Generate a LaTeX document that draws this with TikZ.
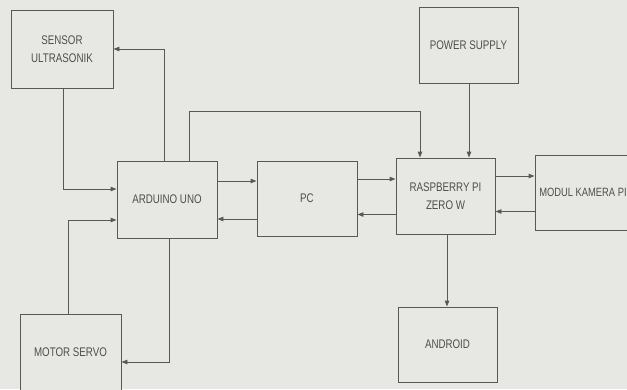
\documentclass[tikz,border=0pt]{standalone}
\usepackage{fontspec}
\newfontfamily\narrowsans[FakeStretch=0.78]{Liberation Sans}
\usetikzlibrary{arrows.meta}
\definecolor{bgc}{RGB}{231,231,228}
\definecolor{linec}{RGB}{88,88,88}
\definecolor{textc}{RGB}{78,78,78}
\tikzset{
  blk/.style={draw=linec, line width=0.9pt, fill=bgc, minimum width=100pt, minimum height=76pt,
    inner sep=0pt, align=center, text=textc,
    font=\narrowsans\fontsize{12.5}{18.5}\selectfont},
  conn/.style={draw=linec, line width=0.9pt},
  arr/.style={conn, -{Triangle[length=6pt,width=4.5pt]}}
}
\begin{document}
\begin{tikzpicture}[x=1pt,y=-1pt]
\fill[bgc] (0,0) rectangle (627,389);
\useasboundingbox (0,0) rectangle (627,389);
\clip (0,0) rectangle (627,389);
\node[blk, minimum width=102pt, minimum height=78pt] (sensor) at (62,49) {SENSOR\\ULTRASONIK};
\node[blk, minimum height=77pt] (arduino) at (167,199.5) {ARDUINO UNO};
\node[blk, minimum height=75pt] (pc) at (307,198.5) {PC};
\node[blk, minimum width=99pt] (rpi) at (445.5,196) {RASPBERRY PI\\ZERO W};
\node[blk, minimum width=99pt] (power) at (468.5,45) {POWER SUPPLY};
\node[blk, minimum width=96pt, minimum height=75pt, font=\narrowsans\fontsize{12}{18}\selectfont] (modul) at (583,192.5) {MODUL KAMERA PI};
\node[blk, minimum width=99pt, minimum height=75pt] (android) at (447.5,344.5) {ANDROID};
\node[blk, minimum width=101pt] (servo) at (70.5,352) {MOTOR SERVO};
% sensor -> arduino
\draw[arr] ([xshift=1pt]sensor.south) |- ([yshift=10.5pt]arduino.west);
% arduino -> sensor
\draw[arr] ([xshift=-3pt]arduino.north) |- (sensor.east);
% servo -> arduino
\draw[arr] ([xshift=-2.5pt]servo.north) |- ([yshift=-20.5pt]arduino.west);
% arduino -> servo
\draw[arr] ([xshift=2pt]arduino.south) |- ([yshift=-10pt]servo.east);
% arduino <-> pc
\draw[arr] ([yshift=18.5pt]arduino.east) -- ([yshift=18.5pt]arduino.east -| pc.west);
\draw[arr] ([yshift=-20.5pt]pc.west) -- ([yshift=-20.5pt]pc.west -| arduino.east);
% pc <-> rpi
\draw[arr] ([yshift=19.5pt]pc.east) -- ([yshift=19.5pt]pc.east -| rpi.west);
\draw[arr] ([yshift=-18.5pt]rpi.west) -- ([yshift=-18.5pt]rpi.west -| pc.east);
% rpi <-> modul
\draw[arr] ([yshift=20pt]rpi.east) -- ([yshift=20pt]rpi.east -| modul.west);
\draw[arr] ([yshift=-19pt]modul.west) -- ([yshift=-19pt]modul.west -| rpi.east);
% power -> rpi
\draw[arr] ([xshift=0.5pt]power.south) -- ([xshift=0.5pt]power.south |- rpi.north);
% arduino -> rpi (top route)
\coordinate (topA) at ([xshift=22pt]arduino.north);
\coordinate (topB) at ([xshift=-25.5pt]rpi.north);
\draw[arr] (topA) -- (topA |- 0,111) -| (topB);
% rpi -> android
\draw[arr] ([xshift=1.5pt]rpi.south) -- ([xshift=1.5pt]rpi.south |- android.north);
\end{tikzpicture}
\end{document}
